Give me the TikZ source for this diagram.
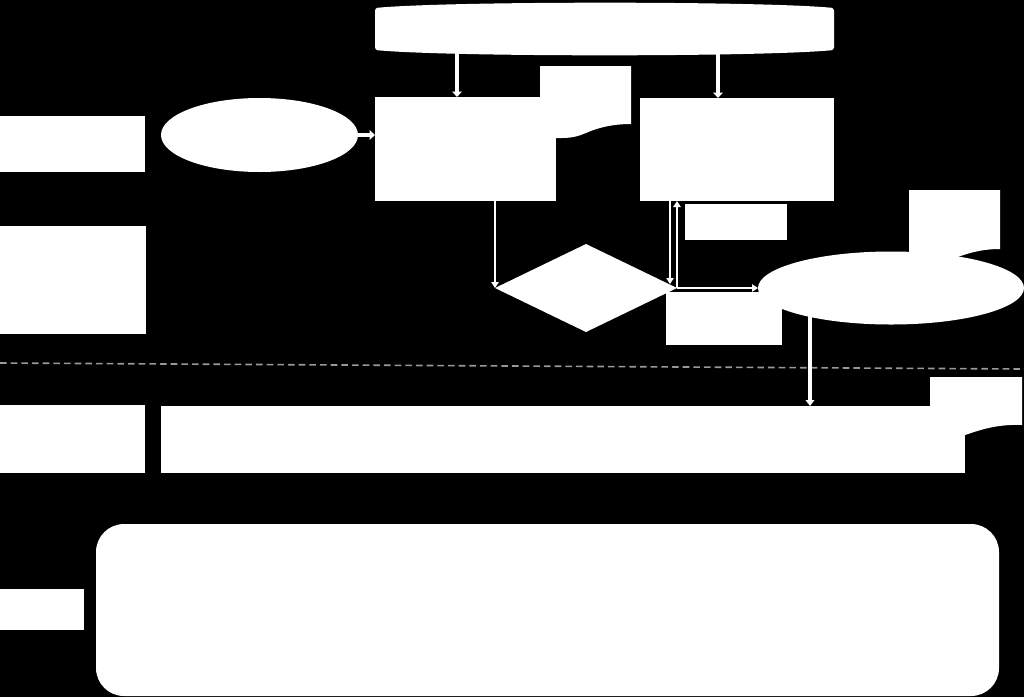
\documentclass[tikz,border=0pt]{standalone}
\usetikzlibrary{shapes.geometric,arrows.meta}
\begin{document}
\begin{tikzpicture}[x=0.75pt,y=-0.75pt,
  sz/.style 2 args={minimum width=#1*0.75pt,minimum height=#2*0.75pt},
  shp/.style={fill=white,draw=none,inner sep=0pt,outer sep=0pt},
  rbox/.style={shp,rectangle},
  oval/.style={shp,ellipse},
  arrthick/.style={draw=white,line width=3.6pt,-{Triangle[width=7pt,length=4pt]}},
  arrmid/.style={draw=white,line width=2.6pt,-{Triangle[width=6.5pt,length=4.5pt]}},
  arrthin/.style={draw=white,line width=1.8pt,-{Triangle[width=5.5pt,length=4.5pt]}},
  sep/.style={draw=gray!80,line width=1.2pt,dash pattern=on 5pt off 3pt}]
\useasboundingbox (0,0) rectangle (1024,697);
\fill[black] (0,0) rectangle (1024,697);

% document shapes (behind the boxes)
\fill[white] (540,66) -- (631,66) -- (631,124) .. controls (612,124) and (597,128) .. (586,133) .. controls (579,136) and (572,138) .. (562,138) -- (540,138) -- cycle;
\fill[white] (909,190) -- (1000,190) -- (1000,249) .. controls (978,249) and (962,255) .. (945,262) .. controls (935,265) and (920,266) .. (909,266) -- cycle;
\fill[white] (930,377) -- (1022,377) -- (1022,425) .. controls (996,424) and (980,430) .. (962,436) .. controls (950,440) and (940,441) .. (930,441) -- cycle;

% top banner
\fill[white,rounded corners=2pt] (375,8) .. controls (450,1) and (760,1) .. (834,8) -- (834,50) .. controls (760,57) and (450,57) .. (375,50) -- cycle;
\coordinate (t1) at (457,40);
\coordinate (t2) at (718,40);

% nodes
\node[rbox,sz={145}{56}] (L1) at (72.5,144) {};
\node[rbox,sz={146}{108}] (L2) at (73,280) {};
\node[rbox,sz={145}{68}] (L3) at (72.5,439) {};
\node[rbox,sz={84}{41}] (L4) at (42,609.5) {};
\node[oval,sz={197}{74}] (E1) at (259.5,135) {};
\node[rbox,sz={181}{104}] (A) at (465.5,149) {};
\node[rbox,sz={194}{103}] (B) at (737,149.5) {};
\node[rbox,sz={116}{53}] (C) at (724,318.5) {};
\node[shp,diamond,sz={182}{88}] (D) at (586,288) {};
\node[rbox,sz={102}{36}] (R) at (736,222) {};
\node[oval,sz={266}{73}] (E2) at (891,288) {};
\node[rbox,sz={804}{67}] (W) at (563,439.5) {};
\node[rbox,rounded corners=21pt,sz={903}{172}] (RR) at (547.5,610) {};

% dashed separator
\coordinate (s1) at (0,363);
\coordinate (s2) at (1024,369);
\draw[sep] (s1) -- (s2);

% connectors
\draw[arrthick] (t1) -- (t1 |- A.north);
\draw[arrthick] (t2) -- (t2 |- B.north);
\draw[arrthick] (E1.east) -- (E1.east -| A.west);
\draw[arrthin] (A.south -| D.west) -- (D.west);
\coordinate (d1) at ([shift={(-7,-4)}]D.east);
\draw[arrthin] (B.south -| d1) -- (d1);
\draw[arrthin] (D.east) -- (D.east |- B.south);
\draw[arrthin] (D.east) -- (E2.west);
\coordinate (e2a) at ([xshift=-81*0.75pt]E2.center);
\draw[arrmid] (e2a) -- (e2a |- W.north);
\end{tikzpicture}
\end{document}
